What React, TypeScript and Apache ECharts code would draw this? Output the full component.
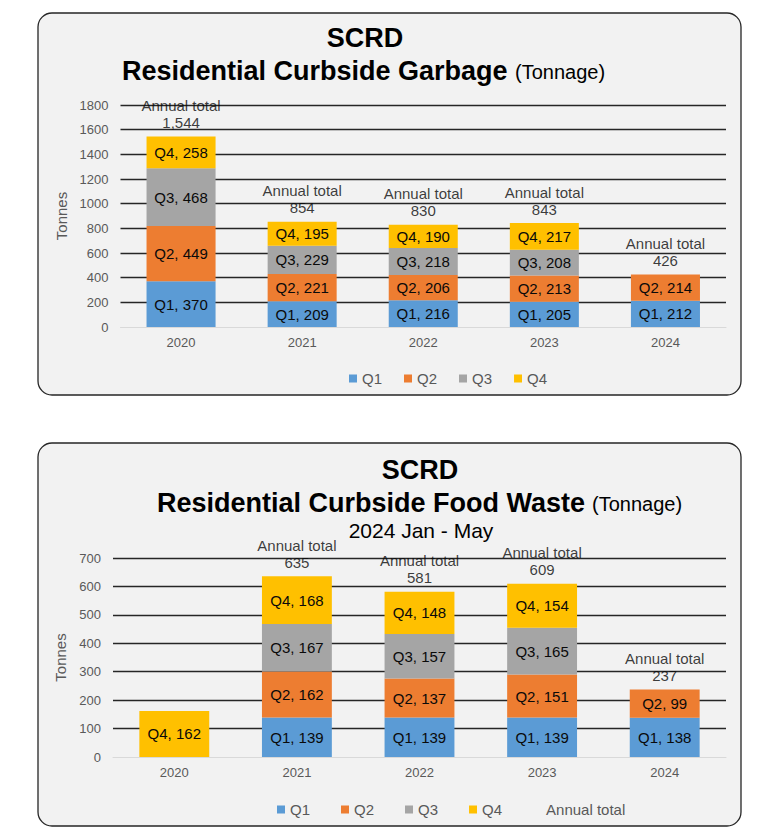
import React, { useEffect, useRef } from "react";
import * as echarts from "echarts";

const years = ["2020", "2021", "2022", "2023", "2024"];
const quarterNames = ["Q1", "Q2", "Q3", "Q4"];
const quarterColors = ["#5b9bd5", "#ed7d31", "#a5a5a5", "#ffc000"];

// Garbage (tonnes)
const garbageQ1 = [370, 209, 216, 205, 212];
const garbageQ2 = [449, 221, 206, 213, 214];
const garbageQ3 = [468, 229, 218, 208, null];
const garbageQ4 = [258, 195, 190, 217, null];
const garbageTotal = [1544, 854, 830, 843, 426];

// Food waste (tonnes)
const foodQ1 = [null, 139, 139, 139, 138];
const foodQ2 = [null, 162, 137, 151, 99];
const foodQ3 = [null, 167, 157, 165, null];
const foodQ4 = [162, 168, 148, 154, null];
const foodTotal = [null, 635, 581, 609, 237];

const garbageTicks = { min: 0, max: 1800, interval: 200 };
const foodTicks = { min: 0, max: 700, interval: 100 };

const FONT = '"Liberation Sans", Arial, sans-serif';
const LABEL_COLOR = "#0a0a0a";
const AXIS_TEXT = "#595959";

function splitColors(n: number) {
  const arr: string[] = ["rgba(0,0,0,0)"];
  for (let i = 1; i <= n; i++) arr.push("#262626");
  return arr;
}

function buildSeries(
  idx: number,
  quarters: (number | null)[][],
  totals: (number | null)[],
  stack: string
) {
  const s: any[] = quarters.map((data, qi) => ({
    name: quarterNames[qi],
    type: "bar",
    stack,
    xAxisIndex: idx,
    yAxisIndex: idx,
    barWidth: "57%",
    data,
    itemStyle: { color: quarterColors[qi] },
    label: {
      show: true,
      position: "inside",
      formatter: (p: any) => `${p.seriesName}, ${p.value}`,
      color: LABEL_COLOR,
      fontSize: 15,
      fontFamily: FONT,
    },
  }));
  s.push({
    name: "Annual total",
    type: "scatter",
    xAxisIndex: idx,
    yAxisIndex: idx,
    symbol: "circle",
    symbolSize: 1,
    itemStyle: { color: "rgba(0,0,0,0)" },
    data: totals,
    z: 5,
    label: {
      show: true,
      position: "top",
      distance: 5,
      formatter: (p: any) =>
        "Annual total\n" + Number(p.value).toLocaleString("en-US"),
      color: LABEL_COLOR,
      fontSize: 15,
      lineHeight: 17,
      fontFamily: FONT,
    },
  });
  return s;
}

export default function App() {
  const ref = useRef<HTMLDivElement>(null);
  useEffect(() => {
    if (!ref.current) return;
    const chart = echarts.init(ref.current, undefined, { renderer: "svg" });

    const titleText = (
      text: string,
      x: number,
      y: number,
      size: number,
      bold: boolean,
      align: string
    ) => ({
      type: "text",
      x,
      y,
      z: 10,
      style: {
        text,
        font: `${bold ? "bold " : ""}${size}px ${FONT}`,
        fill: "#000",
        textAlign: align,
        textVerticalAlign: "middle",
      },
    });

    const yAxisCommon = (ticks: any, gridIndex: number, nameGap: number) => ({
      type: "value",
      gridIndex,
      min: ticks.min,
      max: ticks.max,
      interval: ticks.interval,
      name: "Tonnes",
      nameLocation: "middle",
      nameRotate: 90,
      nameGap,
      nameTextStyle: { color: AXIS_TEXT, fontSize: 15, fontFamily: FONT },
      axisLine: { show: false },
      axisTick: { show: false },
      axisLabel: {
        color: AXIS_TEXT,
        fontSize: 13,
        fontFamily: FONT,
        margin: 12,
        formatter: (v: number) => String(v),
      },
      splitLine: {
        show: true,
        lineStyle: {
          color: splitColors((ticks.max - ticks.min) / ticks.interval),
          width: 1.3,
        },
      },
    });

    const xAxisCommon = (gridIndex: number) => ({
      type: "category",
      gridIndex,
      data: years,
      axisLine: { show: true, lineStyle: { color: "#d9d9d9", width: 1 } },
      axisTick: { show: false },
      axisLabel: {
        color: AXIS_TEXT,
        fontSize: 13,
        fontFamily: FONT,
        margin: 9,
      },
    });

    const option: any = {
      animation: false,
      backgroundColor: "#ffffff",
      textStyle: { fontFamily: FONT },
      graphic: [
        {
          type: "rect",
          z: -10,
          shape: { x: 38, y: 13, width: 703, height: 382, r: 14 },
          style: { fill: "#f2f2f2", stroke: "#262626", lineWidth: 1.3 },
        },
        {
          type: "rect",
          z: -10,
          shape: { x: 38, y: 443, width: 703, height: 383, r: 14 },
          style: { fill: "#f2f2f2", stroke: "#262626", lineWidth: 1.3 },
        },
        titleText("SCRD", 365, 38, 27, true, "center"),
        titleText("Residential Curbside Garbage", 122, 71, 27, true, "left"),
        titleText("(Tonnage)", 515, 72, 20, false, "left"),
        titleText("SCRD", 420, 470, 27, true, "center"),
        titleText("Residential Curbside Food Waste", 157, 503, 27, true, "left"),
        titleText("(Tonnage)", 592, 504, 20, false, "left"),
        titleText("2024 Jan - May", 421, 530, 21, false, "center"),
      ],
      grid: [
        { left: 120.5, right: 46, top: 105, height: 222 },
        { left: 113, right: 46, top: 558, height: 199 },
      ],
      xAxis: [xAxisCommon(0), xAxisCommon(1)],
      yAxis: [yAxisCommon(garbageTicks, 0, 36), yAxisCommon(foodTicks, 1, 28)],
      legend: [
        {
          left: 344,
          top: 366,
          itemWidth: 8,
          itemHeight: 8,
          itemGap: 22,
          icon: "rect",
          data: quarterNames,
          textStyle: { color: AXIS_TEXT, fontSize: 15, fontFamily: FONT },
          selectedMode: false,
        },
        {
          left: 272,
          top: 797,
          itemWidth: 8,
          itemHeight: 8,
          itemGap: 31,
          icon: "rect",
          data: [...quarterNames, { name: "Annual total", icon: "none" }],
          textStyle: { color: AXIS_TEXT, fontSize: 15, fontFamily: FONT },
          selectedMode: false,
        },
      ],
      series: [
        ...buildSeries(0, [garbageQ1, garbageQ2, garbageQ3, garbageQ4], garbageTotal, "g"),
        ...buildSeries(1, [foodQ1, foodQ2, foodQ3, foodQ4], foodTotal, "f"),
      ],
    };

    chart.setOption(option);
    return () => chart.dispose();
  }, []);

  return (
    <div
      ref={ref}
      style={{ position: "absolute", left: 0, top: 0, width: 772, height: 830 }}
    />
  );
}
